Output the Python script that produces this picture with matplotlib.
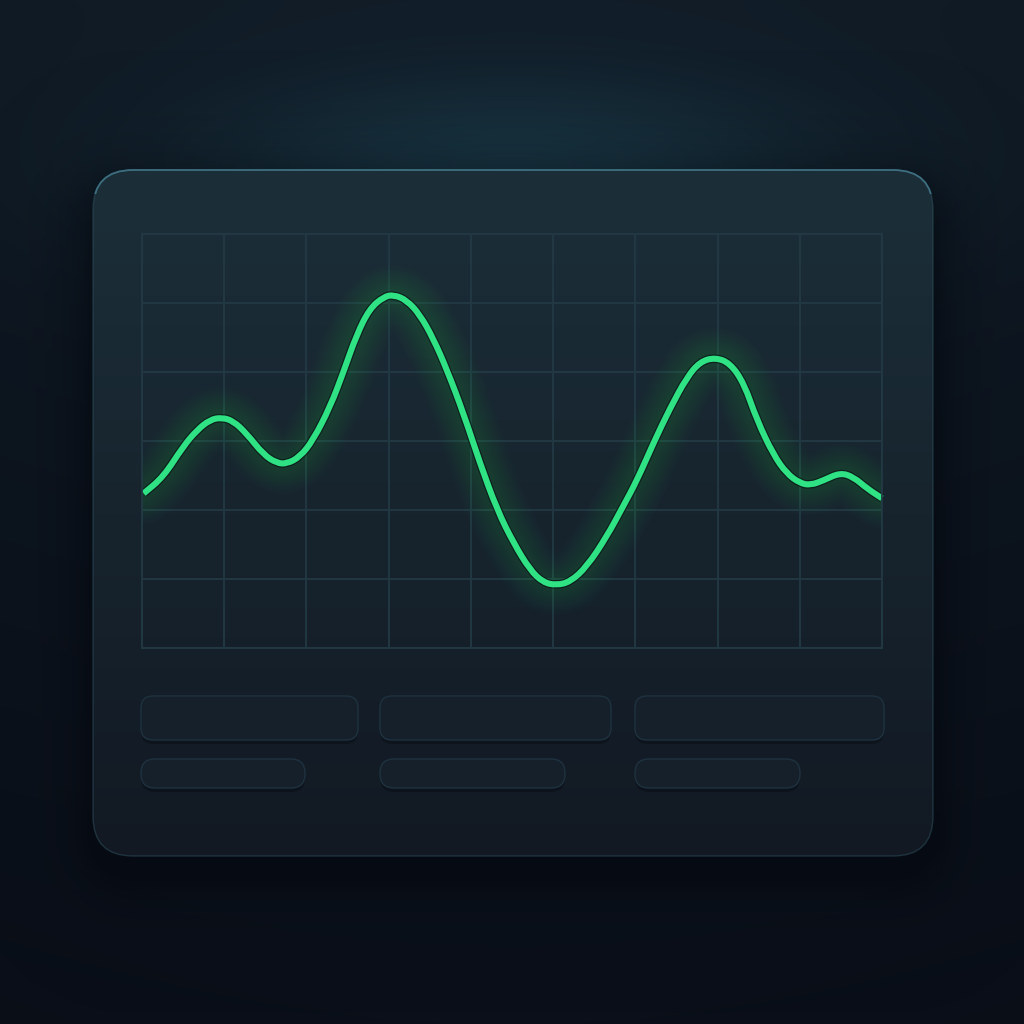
import numpy as np
import matplotlib
matplotlib.use("Agg")
import matplotlib.pyplot as plt
from matplotlib.patches import FancyBboxPatch, PathPatch
from matplotlib.path import Path

# signal (x in grid columns, y in grid rows)
t = [0.02, 0.26, 0.50, 0.67, 0.83, 0.97, 1.11, 1.27, 1.48, 1.64, 1.76, 1.92,
     2.08, 2.29, 2.45, 2.61, 2.77, 2.94, 3.06, 3.22, 3.38, 3.54, 3.71, 3.91,
     4.11, 4.32, 4.52, 4.72, 4.88, 5.04, 5.21, 5.41, 5.65, 5.85, 6.02, 6.22,
     6.42, 6.63, 6.79, 6.97, 7.15, 7.32, 7.48, 7.68, 7.84, 8.00, 8.13, 8.29,
     8.49, 8.65, 8.82, 9.00]
signal = [2.24, 2.48, 2.92, 3.16, 3.31, 3.34, 3.29, 3.11, 2.80, 2.68, 2.67, 2.77,
          3.01, 3.50, 4.00, 4.54, 4.92, 5.09, 5.12, 5.04, 4.83, 4.49, 4.03, 3.40,
          2.68, 2.00, 1.52, 1.13, 0.95, 0.91, 0.96, 1.18, 1.61, 2.05, 2.43, 2.97,
          3.47, 3.93, 4.15, 4.21, 4.13, 3.84, 3.30, 2.80, 2.53, 2.39, 2.36, 2.43,
          2.54, 2.48, 2.31, 2.17]
n_cols = 9
n_rows = 6

W = 1024
fig = plt.figure(figsize=(10.24, 10.24), dpi=100)
bg = fig.add_axes([0, 0, 1, 1])
bg.set_xlim(0, W)
bg.set_ylim(W, 0)
bg.axis("off")


def hex2rgb(h):
    h = h.lstrip("#")
    return np.array([int(h[i:i + 2], 16) / 255 for i in (0, 2, 4)])


yy, xx = np.mgrid[0:W, 0:W].astype(float)

# backdrop: vertical gradient + teal glow above the card
top, bottom = hex2rgb("#111c27"), hex2rgb("#0a0f19")
f = (yy / W)[..., None]
img = top * (1 - f) + bottom * f
glow = np.exp(-(((xx - 512) / 320) ** 2) - (((yy - 175) / 100) ** 2))[..., None]
img = img * (1 - 0.85 * glow) + hex2rgb("#1a3a47") * 0.85 * glow
side = np.exp(-(((xx - 512) / 900) ** 2))[..., None]
img = img * (0.8 + 0.2 * side)
bg.imshow(img, extent=(0, W, W, 0), zorder=0)

# card geometry
cx0, cy0, cx1, cy1, rad = 93, 170, 933, 856, 40


def rrect_sdf(x0, y0, x1, y1, r):
    cx, cy = (x0 + x1) / 2, (y0 + y1) / 2
    hw, hh = (x1 - x0) / 2 - r, (y1 - y0) / 2 - r
    qx = np.abs(xx - cx) - hw
    qy = np.abs(yy - cy) - hh
    out = np.hypot(np.maximum(qx, 0), np.maximum(qy, 0))
    return out + np.minimum(np.maximum(qx, qy), 0) - r


# card shadow
d = rrect_sdf(cx0, cy0 + 18, cx1, cy1 + 18, rad)
alpha = np.clip(np.exp(-np.maximum(d, 0) / 28) * 0.55, 0, 1)
shadow = np.zeros((W, W, 4))
shadow[..., :3] = hex2rgb("#03060c")
shadow[..., 3] = alpha
bg.imshow(shadow, extent=(0, W, W, 0), zorder=1)

# card body with gradient
card = FancyBboxPatch((cx0, cy0), cx1 - cx0, cy1 - cy0,
                      boxstyle="round,pad=0,rounding_size=%d" % rad,
                      facecolor="none", edgecolor="none", zorder=2)
bg.add_patch(card)
ctop, cbot = hex2rgb("#1c2f39"), hex2rgb("#121923")
g = np.clip((yy - cy0) / (cy1 - cy0), 0, 1)[..., None]
cimg = ctop * (1 - g) + cbot * g
im = bg.imshow(cimg, extent=(0, W, W, 0), zorder=2)
im.set_clip_path(card)
edge = FancyBboxPatch((cx0, cy0), cx1 - cx0, cy1 - cy0,
                      boxstyle="round,pad=0,rounding_size=%d" % rad,
                      facecolor="none", edgecolor="#2f5563", linewidth=1.0,
                      alpha=0.5, zorder=3)
bg.add_patch(edge)
# brighter rim along the top
rim = FancyBboxPatch((cx0, cy0), cx1 - cx0, cy1 - cy0,
                     boxstyle="round,pad=0,rounding_size=%d" % rad,
                     facecolor="none", edgecolor="#3d6e80", linewidth=1.3,
                     zorder=3)
bg.add_patch(rim)
rim_clip = plt.Rectangle((0, 0), W, cy0 + 24, transform=bg.transData)
rim.set_clip_path(rim_clip)

# placeholder bars under the chart
bars = [(141, 696, 217, 44, 12), (380, 696, 231, 44, 12), (635, 696, 249, 44, 12),
        (141, 759, 164, 29, 14), (380, 759, 185, 29, 14), (635, 759, 165, 29, 14)]
for x, y, w, h, r in bars:
    bg.add_patch(FancyBboxPatch((x, y + 4), w, h,
                                boxstyle="round,pad=0,rounding_size=%d" % r,
                                facecolor="#070b12", edgecolor="none",
                                alpha=0.45, zorder=4))
    bg.add_patch(FancyBboxPatch((x, y), w, h,
                                boxstyle="round,pad=0,rounding_size=%d" % r,
                                facecolor="#15202a", edgecolor="#1f3240",
                                linewidth=1.0, zorder=5))

# chart area
ax = fig.add_axes([142 / W, 376 / W, 740 / W, 414 / W])
ax.set_facecolor("none")
ax.set_xlim(0, n_cols)
ax.set_ylim(0, n_rows)
ax.set_xticks(range(n_cols + 1))
ax.set_yticks(range(n_rows + 1))
ax.tick_params(length=0, labelbottom=False, labelleft=False)
ax.grid(True, color="#223944", linewidth=1.3)
for s in ax.spines.values():
    s.set_color("#223944")
    s.set_linewidth(1.3)
ax.set_axisbelow(True)

# smooth path through the read points (quadratic segments via midpoints)
pts = np.column_stack([t, signal])
mids = (pts[:-1] + pts[1:]) / 2
verts = [pts[0], mids[0]]
codes = [Path.MOVETO, Path.LINETO]
for i in range(1, len(pts) - 1):
    verts += [pts[i], mids[i]]
    codes += [Path.CURVE3, Path.CURVE3]
verts.append(pts[-1])
codes.append(Path.LINETO)
curve = Path(verts, codes)


def stroke(lw, color, alpha=1.0, cap="round", clip=False):
    p = PathPatch(curve, facecolor="none", edgecolor=color, linewidth=lw,
                  alpha=alpha, capstyle=cap, joinstyle="round", clip_on=clip)
    ax.add_patch(p)


# glow
for lw in np.linspace(44, 8, 12):
    stroke(lw, "#1fcf6e", 0.016, clip=True)
stroke(6.2, "#0a1718", 0.75, cap="butt")
stroke(4.4, "#2fe283", cap="butt")

fig.savefig("out.png", dpi=100)
